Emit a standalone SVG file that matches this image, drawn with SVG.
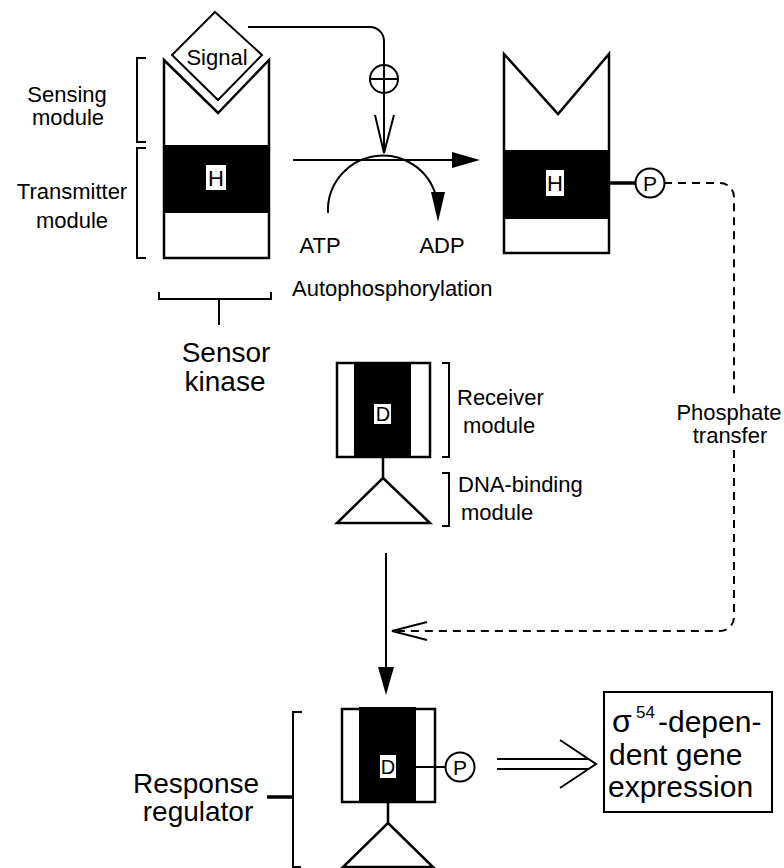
<svg xmlns="http://www.w3.org/2000/svg" width="784" height="868" viewBox="0 0 784 868">
  <style>
    .ln { fill: none; stroke: #000; stroke-width: 2; }
    .box { fill: #fff; stroke: #000; stroke-width: 2.5; }
    .thin { stroke-width: 2; }
    .band { fill: #000; }
    .lbl { fill: #fff; }
    .t { font-family: "Liberation Sans", Arial, sans-serif; font-size: 22px; fill: #000; }
    .big { font-size: 28px; }
    .s17 { font-size: 17px; }
    .s20 { font-size: 20px; }
    .s21 { font-size: 21px; }
    .s30 { font-size: 30px; }
    .s32 { font-size: 32px; }
    .mid { text-anchor: middle; }
    .dash { fill: none; stroke: #000; stroke-width: 2; stroke-dasharray: 8 6; }
    .head { fill: #000; stroke: none; }
  </style>

  <rect width="784" height="868" fill="#fff"/>

  <!-- Sensor kinase (unphosphorylated) with bound signal -->
  <g id="sensor-kinase">
    <path class="box" d="M164 60 L218 113 L269 60 V258 H164 Z"/>
    <rect class="band" x="164" y="145" width="105" height="68"/>
    <rect class="lbl" x="206" y="165" width="20" height="25"/>
    <text class="t mid" x="216" y="186">H</text>
  </g>

  <g id="signal">
    <path class="box thin" d="M215 12 L262 55 L218 100 L172 55 Z"/>
    <text class="t mid" x="217" y="65">Signal</text>
  </g>

  <!-- Module brackets and labels -->
  <g id="sensing-module">
    <path class="ln" d="M146 58 H137 V142 H146"/>
    <text class="t mid" x="67" y="102">Sensing</text>
    <text class="t mid" x="68" y="125">module</text>
  </g>
  <g id="transmitter-module">
    <path class="ln" d="M146 148 H137 V258 H146"/>
    <text class="t mid" x="72" y="199">Transmitter</text>
    <text class="t mid" x="72" y="228">module</text>
  </g>
  <g id="sensor-kinase-label">
    <path class="ln" d="M159 292 V299 H271 V292 M219 299 V325"/>
    <text class="t big mid" x="226" y="362">Sensor</text>
    <text class="t big mid" x="225" y="391">kinase</text>
  </g>

  <!-- Phosphorylated sensor kinase -->
  <g id="sensor-kinase-p">
    <path class="box" d="M504 54 L558 114 L609 54 V253 H504 Z"/>
    <rect class="band" x="504" y="150" width="105" height="69"/>
    <rect class="lbl" x="546" y="170" width="18" height="26"/>
    <text class="t mid" x="555" y="191">H</text>
    <line x1="609" y1="183" x2="636" y2="183" stroke="#000" stroke-width="3.5"/>
    <circle class="box thin" cx="650" cy="183" r="14.5"/>
    <text class="t s21 mid" x="650" y="191">P</text>
  </g>

  <!-- Response regulator (inactive) -->
  <g id="response-regulator">
    <rect class="box" x="337" y="363" width="93" height="94"/>
    <rect class="band" x="354" y="363" width="57" height="94"/>
    <rect class="lbl" x="374" y="404" width="17" height="20"/>
    <text class="t s20 mid" x="383" y="421">D</text>
    <path class="box" d="M383 457 V478 M383 478 L430 523 H337 Z"/>
  </g>
  <g id="receiver-module">
    <path class="ln" d="M442 363 H449 V457 H442"/>
    <text class="t" x="457" y="405">Receiver</text>
    <text class="t" x="463" y="433">module</text>
  </g>
  <g id="dna-binding-module">
    <path class="ln" d="M442 473 H449 V526 H442"/>
    <text class="t" x="458" y="492">DNA-binding</text>
    <text class="t" x="461" y="520">module</text>
  </g>

  <!-- Response regulator (phosphorylated) -->
  <g id="response-regulator-p">
    <rect class="box" x="342" y="709" width="93" height="93"/>
    <rect class="band" x="359" y="707" width="57" height="95"/>
    <rect class="lbl" x="380" y="755" width="16" height="23"/>
    <text class="t s20 mid" x="388" y="774">D</text>
    <path class="box" d="M388 802 V823 M388 823 L433 867 H343 Z"/>
    <line x1="416" y1="767" x2="446" y2="767" stroke="#000" stroke-width="2"/>
    <circle class="box thin" cx="460" cy="767" r="14.5"/>
    <text class="t s21 mid" x="460" y="775">P</text>
  </g>
  <g id="response-regulator-label">
    <path class="ln" d="M302 712 H293 V867 H301"/>
    <line x1="267" y1="797" x2="293" y2="797" stroke="#000" stroke-width="3.5"/>
    <text class="t big mid" x="196" y="793">Response</text>
    <text class="t big mid" x="198" y="821">regulator</text>
  </g>

  <!-- Output -->
  <g id="gene-expression">
    <rect class="box thin" x="604" y="692" width="168" height="120"/>
    <text class="t s32" x="612" y="732">σ</text>
    <text class="t s17" x="636" y="718">54</text>
    <text class="t s30" x="658" y="732">-depen-</text>
    <text class="t s30" x="609" y="765">dent gene</text>
    <text class="t s30" x="608" y="797">expression</text>
  </g>

  <g id="phosphate-transfer-label">
    <text class="t mid" x="729" y="420">Phosphate</text>
    <text class="t mid" x="730" y="443">transfer</text>
  </g>

  <!-- Connectors -->
  <g id="connectors">
    <!-- signal stimulates autophosphorylation -->
    <path class="ln" d="M248 27 H370 A14 14 0 0 1 384 41 V153"/>
    <circle class="ln" cx="384" cy="79" r="14"/>
    <line class="ln" x1="370" y1="79" x2="398" y2="79"/>
    <polyline class="ln" points="375,115 384,153 394,115"/>

    <!-- autophosphorylation reaction -->
    <line class="ln" x1="293" y1="160" x2="456" y2="160"/>
    <polygon class="head" points="452,152 480,160 452,168"/>
    <path class="ln" d="M328 213 A55 55 0 0 1 436 196"/>
    <polygon class="head" points="431,192 445,192 438,222"/>
    <text class="t mid" x="320" y="253">ATP</text>
    <text class="t mid" x="442" y="253">ADP</text>
    <text class="t" x="292" y="296">Autophosphorylation</text>

    <!-- phosphate transfer -->
    <path class="dash" d="M664 183 H720 A14 14 0 0 1 734 197 V396"/>
    <path class="dash" d="M734 450 V617 A14 14 0 0 1 720 631 H394"/>
    <polyline class="ln" points="427,622 392,631 427,640"/>

    <!-- activation of the response regulator -->
    <line class="ln" x1="386" y1="553" x2="386" y2="670"/>
    <polygon class="head" points="378,667 386,695 394,667"/>

    <!-- output -->
    <line class="ln" x1="497" y1="759" x2="589" y2="759"/>
    <line class="ln" x1="497" y1="769" x2="589" y2="769"/>
    <polyline class="ln" points="560,740 596,764 560,788"/>
  </g>
</svg>
